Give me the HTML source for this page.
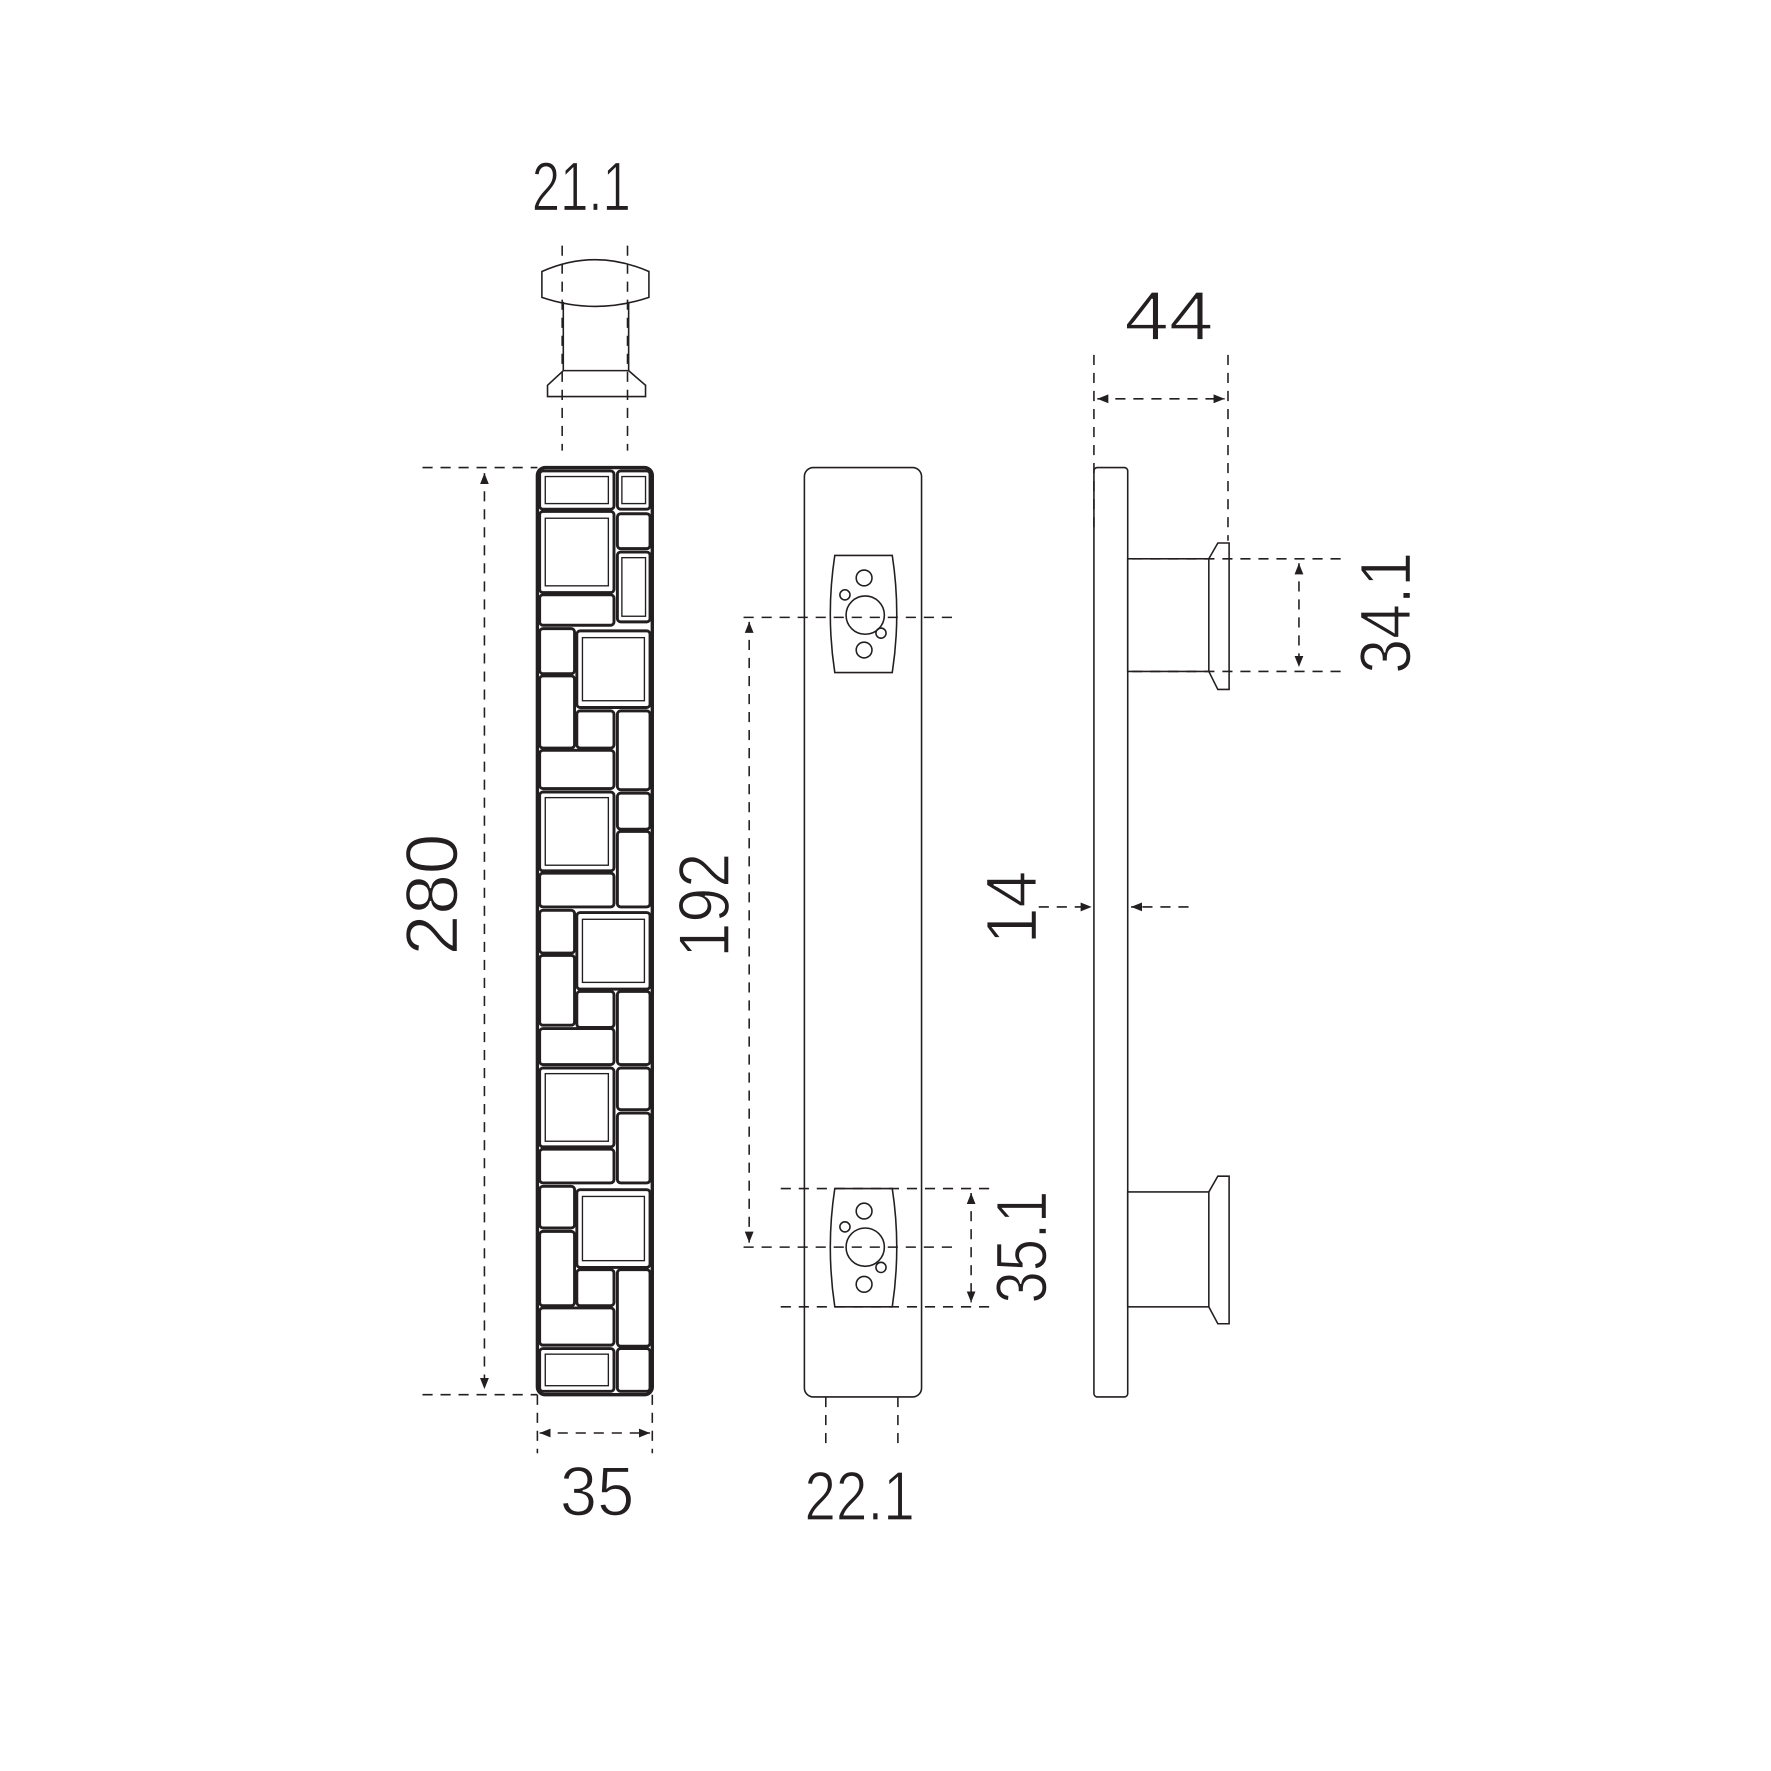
<!DOCTYPE html>
<html><head><meta charset="utf-8"><style>
html,body{margin:0;padding:0;background:#fff;}
svg{display:block;}
text{font-family:"Liberation Sans",sans-serif;fill:#231f20;}
</style></head><body>
<svg width="1771" height="1771" viewBox="0 0 1572 1572" xmlns="http://www.w3.org/2000/svg">
<defs>
<marker id="a" viewBox="0 0 10 10" refX="10" refY="5" markerWidth="7" markerHeight="7" orient="auto-start-reverse"><path d="M0,1 L10,5 L0,9 z" fill="#231f20"/></marker>
</defs>
<g stroke="#231f20" fill="none" stroke-width="1.4">
<g stroke-dasharray="9,7">
<line x1="499" y1="218" x2="499" y2="400"/><line x1="557" y1="218" x2="557" y2="400"/>
<line x1="375" y1="415" x2="477" y2="415"/><line x1="375" y1="1238" x2="477" y2="1238"/>
<line x1="430" y1="420" x2="430" y2="1233" marker-start="url(#a)" marker-end="url(#a)"/>
<line x1="477" y1="1238" x2="477" y2="1290"/><line x1="579" y1="1238" x2="579" y2="1290"/>
<line x1="479" y1="1272" x2="577" y2="1272" marker-start="url(#a)" marker-end="url(#a)"/>
<line x1="660" y1="548" x2="845" y2="548"/><line x1="660" y1="1107" x2="850" y2="1107"/>
<line x1="665" y1="552" x2="665" y2="1103" marker-start="url(#a)" marker-end="url(#a)"/>
<line x1="693" y1="1055" x2="885" y2="1055"/><line x1="693" y1="1160" x2="885" y2="1160"/>
<line x1="862" y1="1059" x2="862" y2="1156" marker-start="url(#a)" marker-end="url(#a)"/>
<line x1="733" y1="1240" x2="733" y2="1285"/><line x1="797" y1="1240" x2="797" y2="1285"/>
<line x1="971" y1="315" x2="971" y2="470"/><line x1="1090" y1="315" x2="1090" y2="480"/>
<line x1="974" y1="354" x2="1087" y2="354" marker-start="url(#a)" marker-end="url(#a)"/>
<line x1="1005" y1="496" x2="1195" y2="496"/><line x1="1005" y1="596" x2="1195" y2="596"/>
<line x1="1153" y1="500" x2="1153" y2="592" marker-start="url(#a)" marker-end="url(#a)"/>
<line x1="922" y1="805" x2="969" y2="805" marker-end="url(#a)"/>
<line x1="1055" y1="805" x2="1004" y2="805" marker-end="url(#a)"/>
</g>
<path d="M481,241 Q528,220 576,241 L576,264 Q528,280 481,264 Z"/>
<path d="M500,268 L500,329 L558,329 L558,268"/>
<path d="M500,329 L486,342 L486,352 L573,352 L573,342 L558,329"/>
<rect x="714" y="415" width="104" height="825" rx="8"/>
<path d="M741,493 L792,493 Q800,545 792,597 L741,597 Q733,545 741,493 Z"/>
<circle cx="768" cy="546" r="17"/><circle cx="750" cy="528" r="4.5"/><circle cx="767" cy="513" r="7"/><circle cx="767" cy="577" r="7"/><circle cx="782" cy="562" r="4.5"/>
<path d="M741,1055 L792,1055 Q800,1107 792,1160 L741,1160 Q733,1107 741,1055 Z"/>
<circle cx="768" cy="1107" r="17"/><circle cx="750" cy="1089" r="4.5"/><circle cx="767" cy="1075" r="7"/><circle cx="767" cy="1140" r="7"/><circle cx="782" cy="1125" r="4.5"/>
<rect x="971" y="415" width="30" height="825" rx="3"/>
<rect x="1001" y="496" width="72" height="100"/>
<path d="M1073,496 L1081,482 L1091,482 L1091,612 L1081,612 L1073,596"/>
<rect x="1001" y="1058" width="72" height="102"/>
<path d="M1073,1058 L1081,1044 L1091,1044 L1091,1175 L1081,1175 L1073,1160"/>
</g>
<g stroke="#231f20" fill="none">
<rect x="477" y="415" width="102" height="823" rx="7" stroke-width="3"/>
<g stroke-width="2.6">
<rect x="479" y="418" width="66" height="34" rx="3"/><rect x="548" y="418" width="29" height="34" rx="3"/>
<rect x="479" y="454" width="66" height="72" rx="3"/><rect x="548" y="456" width="29" height="31" rx="3"/><rect x="548" y="490" width="29" height="62" rx="3"/>
<rect x="479" y="528" width="66" height="27" rx="3"/>
<rect x="479" y="558" width="31" height="40" rx="3"/><rect x="479" y="600" width="31" height="64" rx="3"/><rect x="512" y="560" width="65" height="68" rx="3"/>
<rect x="512" y="631" width="33" height="33" rx="3"/><rect x="548" y="631" width="29" height="70" rx="3"/>
<rect x="479" y="666" width="66" height="34" rx="3"/>
<rect x="479" y="703" width="66" height="70" rx="3"/><rect x="548" y="704" width="29" height="32" rx="3"/><rect x="548" y="738" width="29" height="67" rx="3"/>
<rect x="479" y="775" width="66" height="30" rx="3"/>
<rect x="479" y="808" width="31" height="38" rx="3"/><rect x="479" y="848" width="31" height="62" rx="3"/><rect x="512" y="810" width="65" height="68" rx="3"/>
<rect x="512" y="880" width="33" height="32" rx="3"/><rect x="548" y="880" width="29" height="65" rx="3"/>
<rect x="479" y="913" width="66" height="32" rx="3"/>
<rect x="479" y="948" width="66" height="70" rx="3"/><rect x="548" y="948" width="29" height="37" rx="3"/><rect x="548" y="988" width="29" height="62" rx="3"/>
<rect x="479" y="1020" width="66" height="30" rx="3"/>
<rect x="479" y="1053" width="31" height="37" rx="3"/><rect x="479" y="1093" width="31" height="66" rx="3"/><rect x="512" y="1056" width="65" height="69" rx="3"/>
<rect x="512" y="1127" width="33" height="32" rx="3"/><rect x="548" y="1127" width="29" height="68" rx="3"/>
<rect x="479" y="1161" width="66" height="33" rx="3"/>
<rect x="479" y="1197" width="66" height="38" rx="3"/><rect x="548" y="1197" width="29" height="38" rx="3"/>
</g>
<g stroke-width="1.2">
<rect x="484" y="423" width="56" height="24"/><rect x="552" y="423" width="21" height="24"/>
<rect x="484" y="460" width="56" height="60"/><rect x="552" y="495" width="21" height="52"/>
<rect x="517" y="566" width="55" height="56"/><rect x="484" y="708" width="56" height="60"/>
<rect x="517" y="816" width="55" height="56"/><rect x="484" y="953" width="56" height="60"/>
<rect x="517" y="1062" width="55" height="57"/><rect x="484" y="1202" width="56" height="28"/>
</g>
</g>
<g font-size="62" lengthAdjust="spacingAndGlyphs" style="fill:#fff;stroke:#231f20;stroke-width:0" >
</g>
<g font-size="62">
<text x="472" y="187" textLength="88" lengthAdjust="spacingAndGlyphs" stroke="#fff" stroke-width="1.2">21.1</text>
<text x="998" y="302" textLength="79" lengthAdjust="spacingAndGlyphs" stroke="#fff" stroke-width="1.2">44</text>
<text x="497" y="1345" textLength="66" lengthAdjust="spacingAndGlyphs" stroke="#fff" stroke-width="1.2">35</text>
<text x="714" y="1349" textLength="98" lengthAdjust="spacingAndGlyphs" stroke="#fff" stroke-width="1.2">22.1</text>
<text transform="translate(406,848) rotate(-90)" textLength="108" lengthAdjust="spacingAndGlyphs" font-size="66" stroke="#fff" stroke-width="1.2">280</text>
<text transform="translate(647,850) rotate(-90)" textLength="93" lengthAdjust="spacingAndGlyphs" font-size="64" stroke="#fff" stroke-width="1.2">192</text>
<text transform="translate(920,838) rotate(-90)" textLength="65" lengthAdjust="spacingAndGlyphs" font-size="64" stroke="#fff" stroke-width="1.2">14</text>
<text transform="translate(929,1157) rotate(-90)" textLength="100" lengthAdjust="spacingAndGlyphs" font-size="64" stroke="#fff" stroke-width="1.2">35.1</text>
<text transform="translate(1252,598) rotate(-90)" textLength="108" lengthAdjust="spacingAndGlyphs" font-size="64" stroke="#fff" stroke-width="1.2">34.1</text>
</g>
</svg>
</body></html>
